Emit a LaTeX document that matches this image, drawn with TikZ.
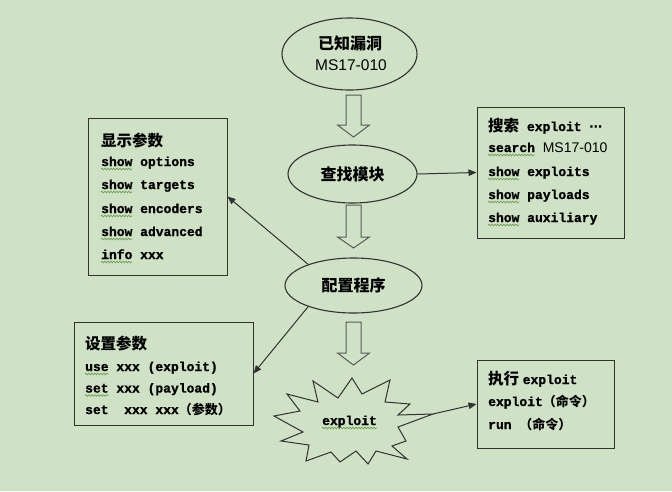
\documentclass[tikz,border=0pt]{standalone}
\usepackage{fontspec}
\setmainfont{Liberation Sans}
\newfontfamily\cjk{Noto Sans CJK SC}
\newfontfamily\mono{Liberation Mono}[BoldFeatures={FakeBold=1.2}]
\newfontfamily\dejavu{DejaVu Sans}
\usetikzlibrary{arrows.meta,decorations.pathmorphing,shapes.geometric}
\definecolor{bgc}{RGB}{207,226,198}
\definecolor{linec}{RGB}{50,50,50}
\definecolor{sqc}{RGB}{105,160,75}
\newcommand\zh[1]{{\fontsize{15.5}{18}\selectfont\cjk\bfseries #1}}
\newcommand\zs[1]{{\fontsize{13}{15}\selectfont\cjk\bfseries #1}}
\newcommand\blockarrow[4]{\draw[hollow] (#1-7.5,#2) -- (#1+7.5,#2) -- (#1+7.5,#3) -- (#1+16,#3) -- (#1,#4) -- (#1-16,#3) -- (#1-7.5,#3) -- cycle;}
\begin{document}
\begin{tikzpicture}[x=1pt,y=-1pt,
  box/.style={draw=linec, line width=1pt, rectangle, inner sep=0},
  ell/.style={draw=linec, line width=1.1pt, ellipse, inner sep=0, font=\fontsize{16}{18}\selectfont\cjk\bfseries},
  txt/.style={inner sep=0, anchor=base west, font=\fontsize{13}{15}\selectfont\mono\bfseries},
  ttl/.style={inner sep=0, anchor=base west, font=\fontsize{15.5}{18}\selectfont\cjk\bfseries},
  conn/.style={draw=linec, line width=1pt, -{Triangle[length=8pt,width=6.5pt]}},
  hollow/.style={draw=black!65, line width=1pt, fill=bgc, line join=miter},
  sq/.style={draw=sqc, line width=0.7pt, decorate, decoration={snake, amplitude=0.8pt, segment length=3pt}}
]
\fill[bgc] (0,0) rectangle (672,491);
\useasboundingbox (0,0) rectangle (672,491);

% ellipses
\node[ell, minimum width=135pt, minimum height=72pt] (vul) at (349.5,54) {};
\node[inner sep=0, font=\fontsize{16}{18}\selectfont\cjk\bfseries] (vult) at (350,43) {已知漏洞};
\node[inner sep=0, font=\fontsize{15.5}{18}\selectfont] (vulm) at (351,65) {MS17-010};
\node[ell, minimum width=129pt, minimum height=58pt] (find) at (352.5,174) {查找模块};
\node[ell, minimum width=137pt, minimum height=55pt] (cfg) at (353.5,285.5) {配置程序};

% hollow arrows
\blockarrow{353.5}{95}{125}{137}
\blockarrow{353.5}{205}{237}{248}
\blockarrow{353.5}{322}{353}{365}

% explosion
\draw[draw=linec, line width=1pt, fill=bgc, line join=miter] (287,394) -- (318,402) -- (313,381) -- (338,398) -- (352,378) -- (362,394) -- (390,380) -- (385,402) -- (410,404) -- (398,415) -- (433,414) -- (398,427) -- (406,441) -- (392,446) -- (407,459) -- (376,451) -- (368,464) -- (356,451) -- (340,462) -- (331,452) -- (306,461) -- (309,445) -- (281,441) -- (303,432) -- (274,416) -- (300,411) -- cycle;
\coordinate (xtip) at (433,414);
\node[txt] (xt) at (322,425) {exploit};
\draw[sq] ([yshift=-3pt]xt.base west) -- ++(54.6,0);

% boxes
\node[box, minimum width=139pt, minimum height=157pt] (show) at (157.5,196.5) {};
\node[box, minimum width=147pt, minimum height=131pt] (search) at (550.5,172.5) {};
\node[box, minimum width=179pt, minimum height=103pt] (setp) at (163.5,373.5) {};
\node[box, minimum width=137pt, minimum height=88pt] (exec) at (545.5,404) {};

% show box text
\node[ttl] (s0) at (101,146) {显示参数};
\node[txt] (s1) at (101,166) {show options};
\node[txt] (s2) at (101,189) {show targets};
\node[txt] (s3) at (101,213) {show encoders};
\node[txt] (s4) at (101,236) {show advanced};
\node[txt] (s5) at (101,259) {info xxx};
\foreach \n in {s1,s2,s3,s4,s5} \draw[sq] ([yshift=-3pt]\n.base west) -- ++(31.2,0);

% search box text
\node[txt] (r0) at (488,131) {\zh{搜索} exploit {\fontsize{13}{15}\selectfont\dejavu ⋯}};
\node[txt] (r1) at (488,152) {search {\fontsize{14}{16}\selectfont\rmfamily\mdseries MS17-010}};
\node[txt] (r2) at (488,176) {show exploits};
\node[txt] (r3) at (488,199) {show payloads};
\node[txt] (r4) at (488,222) {show auxiliary};
\draw[sq] ([yshift=-3pt]r1.base west) -- ++(46.8,0);
\foreach \n in {r2,r3,r4} \draw[sq] ([yshift=-3pt]\n.base west) -- ++(31.2,0);

% set box text
\node[ttl] (p0) at (85,349) {设置参数};
\node[txt] (p1) at (85,371) {use xxx (exploit)};
\node[txt] (p2) at (85,392.5) {set xxx (payload)};
\node[txt] (p3) at (85,414) {set\ \ xxx xxx\zs{（参数）}};
\draw[sq] ([yshift=-3pt]p1.base west) -- ++(23.4,0);
\draw[sq] ([yshift=-3pt]p2.base west) -- ++(23.4,0);

% exec box text
\node[ttl] (e0) at (488,384) {执行 {\fontsize{13}{15}\selectfont\mono\bfseries exploit}};
\node[txt] (e1) at (488,406) {exploit\zs{（命令）}};
\node[txt] (e2) at (488,429) {run \zs{（命令）}};

% connectors
\draw[conn] (find.east) -- (search.west);
\draw[conn] (cfg.155) -- (show.east);
\draw[conn] (cfg.205) -- (setp.east);
\draw[conn] (xtip) -- (exec.west);
\end{tikzpicture}
\end{document}
